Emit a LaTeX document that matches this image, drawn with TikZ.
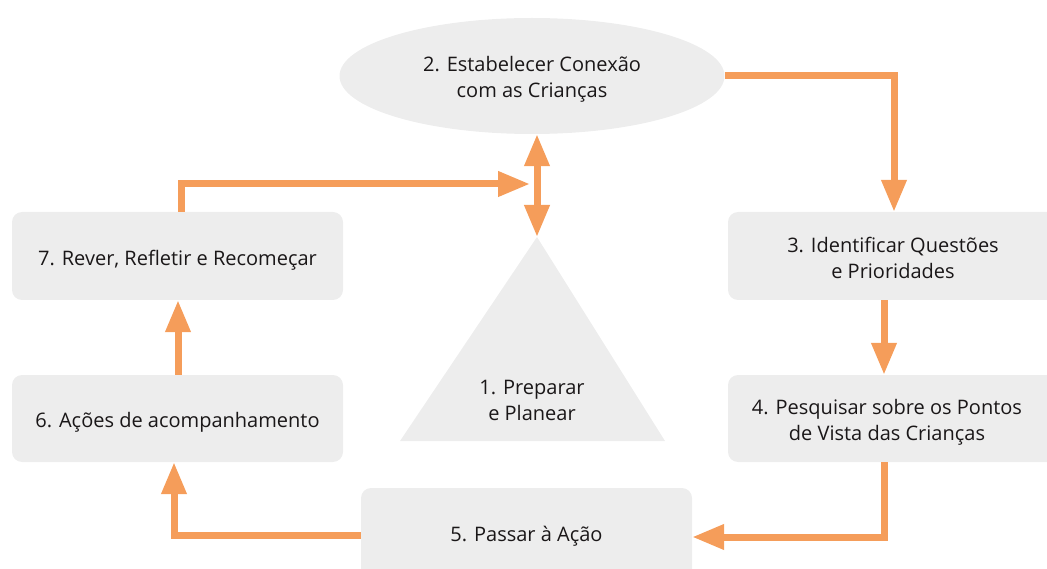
\documentclass[tikz,border=0pt]{standalone}
\usepackage{fontspec}
\setmainfont{Open Sans}
\usetikzlibrary{arrows.meta,shapes.geometric}
\definecolor{boxgray}{HTML}{EDEDED}
\definecolor{arroworange}{HTML}{F59D5A}
\definecolor{txt}{HTML}{1A1718}
\tikzset{
  lbl/.style={text=txt, align=center, inner sep=0pt, font=\fontsize{20}{26}\selectfont},
  stepbox/.style={fill=boxgray, rounded corners=10pt, inner sep=0pt},
  flow/.style={draw=arroworange, line width=7pt, -{Triangle[width=24pt,length=32pt]}},
  flowtwo/.style={draw=arroworange, line width=7pt, {Triangle[width=24pt,length=32pt]}-{Triangle[width=24pt,length=32pt]}},
}
\begin{document}
\begin{tikzpicture}[x=1pt,y=-1pt]
\useasboundingbox (0,0) rectangle (1047,569);
\clip (0,0) rectangle (1047,569);
% ellipse
\node[fill=boxgray, ellipse, inner sep=0pt, minimum width=385pt, minimum height=116pt] (e2) at (532,76) {};
\node[lbl] (e2t) at (532,79) {2. Estabelecer Conexão\\com as Crianças};
% triangle
\fill[boxgray] (537,237) -- (665,441) -- (400,441) -- cycle;
\coordinate (apex) at (537,237);
\node[lbl] (t1) at (532,400) {1. Preparar\\e Planear};
% boxes
\node[stepbox, minimum width=331pt, minimum height=88pt] (b7) at (177.5,256) {};
\node[lbl] (b7t) at (177.5,260) {7. Rever, Refletir e Recomeçar};
\node[stepbox, minimum width=331pt, minimum height=87pt] (b6) at (177.5,418.5) {};
\node[lbl] (b6t) at (177.5,422) {6. Ações de acompanhamento};
\node[stepbox, minimum width=332pt, minimum height=88pt] (b3) at (894,256) {};
\node[lbl] (b3t) at (893,258) {3. Identificar Questões\\e Prioridades};
\node[stepbox, minimum width=332pt, minimum height=87pt] (b4) at (894,418.5) {};
\node[lbl] (b4t) at (887,422.5) {4. Pesquisar sobre os Pontos\\de Vista das Crianças};
\node[stepbox, minimum width=331pt, minimum height=92pt] (b5) at (526.5,534) {};
\node[lbl] (b5t) at (526.5,536) {5. Passar à Ação};
% connectors
\coordinate (j7) at (530,184);
\draw[flowtwo] (e2.south -| apex) -- (apex);
\draw[flow] (e2.east |- 0,76) -- (894,76) -- (b3.north);
\draw[flow] (b3.south -| 884,0) -- (b4.north -| 884,0);
\draw[flow] (b4.south -| 884,0) -- (884,537) -- (b5.east |- 0,537);
\draw[flow] (b5.west |- 0,535) -- (174,535) -- (b6.south -| 174,0);
\draw[flow] (b6.north -| 178,0) -- (b7.south -| 178,0);
\draw[flow] (b7.north -| 181,0) -- (181,184) -- (j7);
\end{tikzpicture}
\end{document}
